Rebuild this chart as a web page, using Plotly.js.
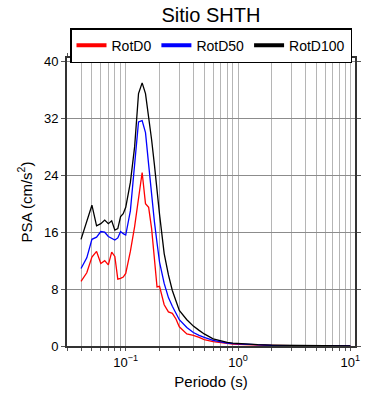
<!DOCTYPE html>
<html>
<head>
<meta charset="utf-8">
<script src="https://cdn.plot.ly/plotly-3.0.1.min.js"></script>
<style>html,body{margin:0;padding:0;background:#fff;}#chart{width:390px;height:400px;}</style>
</head>
<body>
<div id="chart"></div>
<script>
const periods = [0.04,0.045,0.05,0.055,0.06,0.065,0.07,0.075,0.08,0.085,0.09,0.095,0.1,0.11,0.12,0.13,0.14,0.15,0.16,0.17,0.18,0.19,0.2,0.22,0.24,0.26,0.28,0.3,0.35,0.4,0.45,0.5,0.6,0.7,0.8,0.9,1.0,1.2,1.5,2,3,4,5,7.5,10];
const rotD0 = [9.1,10.3,12.5,13.3,11.6,12.0,11.4,13.2,12.6,9.4,9.5,9.7,10.2,13.3,16.8,20.5,24.4,20.0,19.5,16.5,12.5,8.3,8.4,5.8,4.8,4.6,3.8,2.7,1.7,1.5,1.2,0.9,0.6,0.45,0.35,0.28,0.22,0.16,0.11,0.07,0.04,0.03,0.02,0.012,0.008];
const rotD50 = [10.9,12.4,15.0,15.3,16.1,16.0,15.4,15.2,14.9,15.2,16.1,15.8,15.6,19.0,25.0,31.5,31.7,30.0,25.5,21.0,17.5,14.5,11.8,8.8,6.8,5.6,4.5,3.7,2.6,1.9,1.5,1.2,0.8,0.55,0.4,0.32,0.28,0.2,0.14,0.09,0.05,0.04,0.03,0.02,0.012];
const rotD100 = [15.0,17.7,19.8,16.9,17.2,17.7,17.2,17.6,16.3,16.5,18.2,18.6,19.5,23.0,28.0,35.5,37.0,35.5,32.5,29.0,25.5,21.5,18.5,13.0,10.0,7.8,6.2,5.0,3.7,2.8,2.2,1.7,1.0,0.7,0.5,0.4,0.35,0.25,0.18,0.12,0.07,0.05,0.04,0.02,0.015];
const seriesNames = ['RotD0','RotD50','RotD100'];
const xTickVals = [0.03,0.04,0.05,0.06,0.07,0.08,0.09,0.1,0.2,0.3,0.4,0.5,0.6,0.7,0.8,0.9,1,2,3,4,5,6,7,8,9,10];
const xTickText = xTickVals.map(v => v===0.1 ? '10<sup>\u22121</sup>' : v===1 ? '10<sup>0</sup>' : v===10 ? '10<sup>1</sup>' : '');
const yTickVals = [0,8,16,24,32,40];

const colors = ['#ff0000','#0000ff','#000000'];
const lines = [rotD0, rotD50, rotD100].map((ys,i) => ({
  x: periods, y: ys, type:'scatter', mode:'lines', name: seriesNames[i],
  showlegend:false, line:{color:colors[i], width:1.3}
}));
// legend-only entries with thicker sample lines
const legendEntries = seriesNames.map((n,i) => ({
  x:[null], y:[null], type:'scatter', mode:'lines', name:n,
  showlegend:true, line:{color:colors[i], width:4}
}));

const font = {family:'Liberation Sans, Arial, sans-serif', color:'#000'};
const layout = {
  width:390, height:400,
  margin:{l:67, r:35, t:58, b:54},
  paper_bgcolor:'#fff', plot_bgcolor:'#fff',
  font: Object.assign({size:13}, font),
  title:{text:'Sitio SHTH', font:Object.assign({size:20}, font), x:0.541, xanchor:'center', y:0.963, yanchor:'middle', yref:'container'},
  showlegend:true,
  legend:{orientation:'h', x:0.5, xanchor:'center', y:1.104, yanchor:'top',
    bordercolor:'#000', borderwidth:1.5, bgcolor:'#fff',
    font:Object.assign({size:14}, font), tracegroupgap:0},
  xaxis:{type:'log', range:[Math.log10(0.03), Math.log10(11)],
    tickmode:'array', tickvals:xTickVals, ticktext:xTickText,
    ticks:'outside', ticklen:3, tickcolor:'#555', tickwidth:1,
    showline:true, linecolor:'#333', linewidth:2, mirror:'allticks',
    showgrid:true, gridcolor:'#b5b5b5', gridwidth:1, zeroline:false,
    tickfont:Object.assign({size:13}, font),
    title:{text:'Periodo (s)', font:Object.assign({size:15}, font), standoff:8}
  },
  yaxis:{range:[0,40.5], tickmode:'array', tickvals:yTickVals,
    ticks:'outside', ticklen:4, tickcolor:'#555', tickwidth:1,
    showline:true, linecolor:'#333', linewidth:2, mirror:'allticks',
    showgrid:true, gridcolor:'#8c8c8c', gridwidth:1, zeroline:false,
    tickfont:Object.assign({size:13}, font),
    title:{text:'PSA (cm/s<sup>2</sup>)', font:Object.assign({size:15}, font), standoff:8}
  }
};
Plotly.newPlot('chart', lines.concat(legendEntries), layout, {staticPlot:true, displayModeBar:false});
</script>
</body>
</html>
